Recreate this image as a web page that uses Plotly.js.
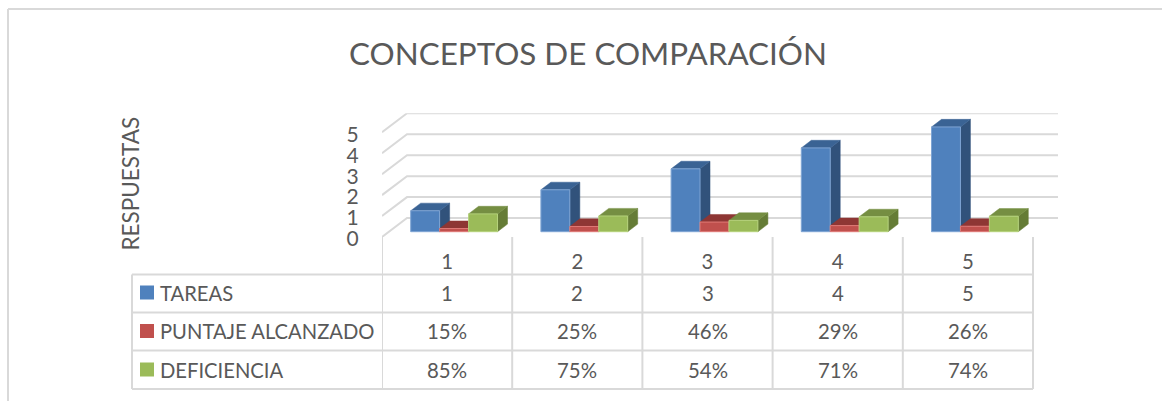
<!DOCTYPE html>
<html><head><meta charset="utf-8">
<script src="https://cdn.plot.ly/plotly-3.0.1.min.js"></script>
<style>html,body{margin:0;padding:0;background:#fff}#c{width:1162px;height:401px}</style>
</head><body><div id="c"></div>
<script>
const categories = [1, 2, 3, 4, 5];
const tareas = [1, 2, 3, 4, 5];
const puntaje = [0.15, 0.25, 0.46, 0.29, 0.26];
const deficiencia = [0.85, 0.75, 0.54, 0.71, 0.74];
const seriesNames = ['TAREAS', 'PUNTAJE ALCANZADO', 'DEFICIENCIA'];
const puntajeLabels = ['15%', '25%', '46%', '29%', '26%'];
const deficienciaLabels = ['85%', '75%', '54%', '71%', '74%'];
const yTicks = [0, 1, 2, 3, 4, 5];

const W = 1162, H = 401;
const GREY = '#595959', GRID = '#d9d9d9', FONT = 'Lato, "Open Sans", sans-serif';
const faces = [
  {front:'#4f81bd', side:'#31527b', top:'#3a6394', edge:'#7fa5d4'},
  {front:'#c0504d', side:'#7d3432', top:'#8e3634', edge:'#e07a77'},
  {front:'#9bbb59', side:'#657c36', top:'#758e42', edge:'#b5d27c'}
];
const px = v => v / W, py = v => 1 - v / H;
const catW = 130.2, unitH = 21;
const depthX = 25 / catW, depthY = 19 / unitH;   // oblique projection of the floor
const P = (c, v, d) => [c + d * depthX, v + d * depthY];
const barW = 1 / 4.5, dFront = 0.28, dBack = 0.68;

const traces = [];
function poly(points, fill, line) {
  traces.push({type:'scatter', mode:'lines', x:points.map(p=>p[0]), y:points.map(p=>p[1]),
    fill:'toself', fillcolor:fill, line:{color:line||fill, width:line?1:0.5},
    hoverinfo:'skip', showlegend:false});
}
// back wall and side wall gridlines
yTicks.forEach(t => {
  const a = P(0.5, t, 0), b = P(0.5, t, 1), c = P(5.5, t, 1);
  traces.push({type:'scatter', mode:'lines', x:[a[0], b[0], c[0]], y:[a[1], b[1], c[1]],
    line:{color:GRID, width:2}, hoverinfo:'skip', showlegend:false});
});
// bars, painted back to front
[tareas, puntaje, deficiencia].forEach((vals, s) => {
  const f = faces[s];
  vals.forEach((v, i) => {
    const l = categories[i] - 1.5 * barW + s * barW, r = l + barW;
    poly([P(r,0,dFront), P(r,v,dFront), P(r,v,dBack), P(r,0,dBack), P(r,0,dFront)], f.side);
    poly([P(l,v,dFront), P(r,v,dFront), P(r,v,dBack), P(l,v,dBack), P(l,v,dFront)], f.top);
    poly([P(l,0,dFront), P(r,0,dFront), P(r,v,dFront), P(l,v,dFront), P(l,0,dFront)], f.front, f.edge);
  });
});

const shapes = [], annotations = [];
const line = (x0,y0,x1,y1,xref,w) => shapes.push({type:'line', xref:xref||'paper', yref:'paper', x0,y0,x1,y1,
  line:{color:GRID, width:w||2}, layer:'below'});
// outer frame
line(px(8), py(9), px(W), py(9));
line(px(8), py(9), px(8), py(H));
// table
const rowTop = [274.5, 312.5, 350.5, 389];
const rowMid = [292.5, 331, 369.5];
rowTop.forEach(y => line(px(132), py(y), px(1033), py(y)));
line(px(132), py(274.5), px(132), py(389));
[0.5, ...categories.map(c => c + 0.5)].forEach(c => line(c, py(237), c, py(389), 'x'));

const rows = [tareas.map(String), puntajeLabels, deficienciaLabels];
rows.forEach((row, r) => {
  shapes.push({type:'rect', xref:'paper', yref:'paper', x0:px(140), x1:px(154),
    y0:py(rowMid[r]+7), y1:py(rowMid[r]-7), fillcolor:faces[r].front, line:{width:0}});
  annotations.push({xref:'paper', yref:'paper', x:px(158), y:py(rowMid[r]), xanchor:'left', yanchor:'middle',
    text:seriesNames[r], showarrow:false, font:{family:FONT, size:20.2, color:GREY}});
  row.forEach((t, i) => annotations.push({xref:'x', yref:'paper', x:categories[i], y:py(rowMid[r]),
    xanchor:'center', yanchor:'middle', text:t, showarrow:false, font:{family:FONT, size:20.4, color:GREY}}));
});
annotations.push({xref:'paper', yref:'paper', x:px(130), y:py(183.5), xanchor:'center', yanchor:'middle',
  text:'RESPUESTAS', textangle:-90, showarrow:false, font:{family:FONT, size:22.5, color:GREY}});

const layout = {
  width:W, height:H, margin:{l:0,r:0,t:0,b:0}, paper_bgcolor:'#fff', plot_bgcolor:'rgba(0,0,0,0)',
  showlegend:false,
  title:{text:'CONCEPTOS DE COMPARACIÓN', x:588/W, xanchor:'center', y:py(54.5), yanchor:'middle',
    font:{family:FONT, size:31.4, color:GREY}},
  xaxis:{domain:[px(382), px(382 + 676)], range:[0.5, 5.5 + depthX], tickmode:'array', tickvals:categories,
    ticktext:categories.map(String), ticks:'outside', ticklen:7, tickcolor:'rgba(0,0,0,0)', showgrid:false,
    zeroline:false, showline:false, tickfont:{family:FONT, size:20.4, color:GREY}, fixedrange:true},
  yaxis:{domain:[py(237), py(113.3)], range:[0, 5 + depthY], tickmode:'array', tickvals:yTicks,
    ticktext:yTicks.map(String), ticks:'outside', ticklen:18, tickcolor:'rgba(0,0,0,0)', showgrid:false,
    zeroline:false, showline:false, tickfont:{family:FONT, size:21, color:GREY}, ticklabelshift:2, fixedrange:true},
  shapes, annotations
};
Plotly.newPlot('c', traces, layout, {displayModeBar:false, staticPlot:true});
</script></body></html>
